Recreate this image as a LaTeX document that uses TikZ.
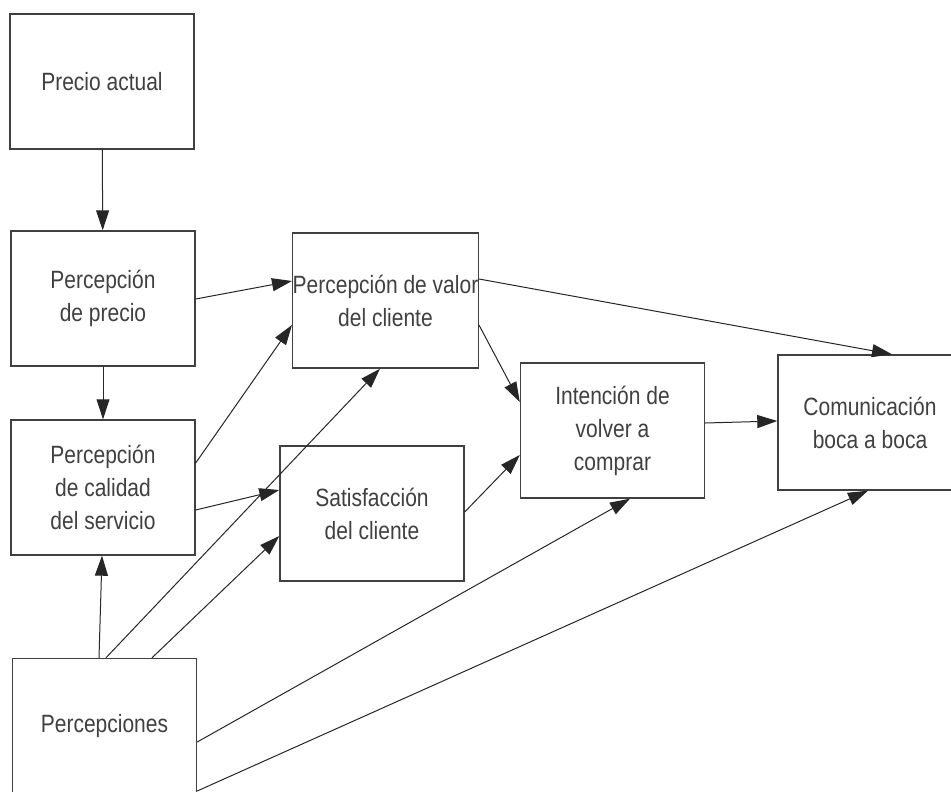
\documentclass[tikz,border=0pt]{standalone}
\usepackage{fontspec}
\setmainfont[FakeStretch=0.84]{Liberation Sans}
\usepackage{tikz}
\usetikzlibrary{arrows.meta,positioning}

\begin{document}
\begin{tikzpicture}[x=1pt,y=-1pt,>={Triangle[length=20pt,width=13pt]}]
		\tikzstyle{caja}=[draw=black!75, line width=1.4pt, minimum width=184pt, minimum height=135pt, inner sep=0pt, align=center, text=black!75, font=\fontsize{25}{33}\selectfont]
		\tikzstyle{flecha}=[line width=1pt, color=black!85]
		
		\useasboundingbox (0,0) rectangle (951,792);
		\clip (0,0) rectangle (951,792);
		
		\node[caja] (actual)  at (102,81.5)   {Precio actual};
		\node[caja] (precio)  at (103,298.5)  {Percepción\\de precio};
		\node[caja] (calidad) at (103,487.5)  {Percepción\\de calidad\\del servicio};
		\node[caja] (percep)  at (104.5,726)  {Percepciones};
		\node[caja] (valor)   at (385.5,300.5) {Percepción de valor\\del cliente};
		\node[caja] (satisf)  at (372,513.5)  {Satisfacción\\del cliente};
		\node[caja] (intenc)  at (612.5,430.5) {Intención de\\volver a\\comprar};
		\node[caja] (comun)   at (870,422.5)  {Comunicación\\boca a boca};
		
		\path[->, flecha]
		(actual) edge (precio)
		(precio) edge (calidad)
		([yshift=-0.5pt]precio.east)  edge ([yshift=19.5pt]valor.west)
		([yshift=24.5pt]calidad.east) edge ([yshift=-24.5pt]valor.west)
		([yshift=-22.5pt]calidad.east) edge ([yshift=23.5pt]satisf.west)
		([xshift=-5.5pt]percep.north) edge ([xshift=-1pt]calidad.south)
		([xshift=1.5pt]percep.north)  edge ([xshift=-5.5pt]valor.south)
		([xshift=47.5pt]percep.north) edge ([yshift=-22.5pt]satisf.west)
		([yshift=-16pt]percep.east)   edge ([xshift=17.5pt]intenc.south)
		([yshift=-65pt]percep.east)   edge ([xshift=-2pt]comun.south)
		([yshift=21.5pt]valor.east)   edge ([xshift=22pt]comun.north)
		([yshift=-24.5pt]valor.east)  edge ([yshift=28.5pt]intenc.west)
		([yshift=1.5pt]satisf.east)   edge ([yshift=-24.5pt]intenc.west)
		([yshift=7.5pt]intenc.east)   edge ([yshift=1.5pt]comun.west)
		;
\end{tikzpicture}
\end{document}
